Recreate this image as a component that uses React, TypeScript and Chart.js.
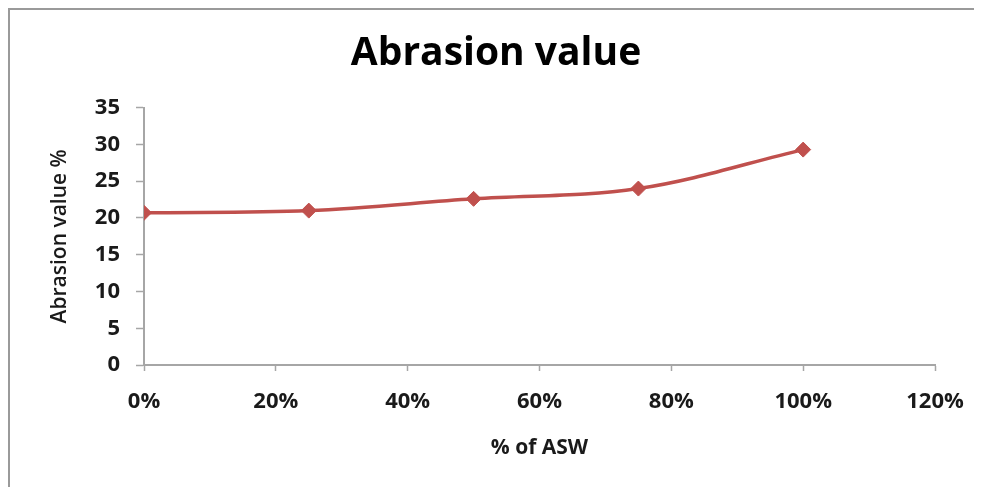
import React, { useEffect, useRef } from "react";
import { Chart, registerables } from "chart.js";

Chart.register(...registerables);

const xValues = [0, 0.25, 0.5, 0.75, 1.0];
const abrasionValues = [20.7, 21.0, 22.6, 24.0, 29.3];
const chartTitle = "Abrasion value";
const xAxisTitle = "% of ASW";
const yAxisTitle = "Abrasion value %";

const FONT = "'Open Sans', 'DejaVu Sans', sans-serif";

export default function App() {
  const ref = useRef<HTMLCanvasElement | null>(null);

  useEffect(() => {
    if (!ref.current) return;
    const chart = new Chart(ref.current, {
      type: "scatter",
      data: {
        datasets: [
          {
            label: "Abrasion value",
            data: xValues.map((x, i) => ({ x, y: abrasionValues[i] })),
            showLine: true,
            borderColor: "#C0504D",
            backgroundColor: "#C0504D",
            borderWidth: 3.5,
            tension: 0.35,
            pointStyle: "rectRot",
            pointRadius: 7.5,
            pointBorderWidth: 1,
            pointBackgroundColor: "#C0504D",
            pointBorderColor: "#C0504D",
            yAxisID: "y",
          },
        ],
      },
      options: {
        animation: false,
        responsive: false,
        maintainAspectRatio: false,
        layout: { padding: 0 },
        plugins: {
          legend: { display: false },
          tooltip: { enabled: false },
          title: {
            display: true,
            text: chartTitle,
            color: "#000",
            font: { family: FONT, size: 39, weight: "bold", lineHeight: 1.2 },
            padding: { top: 20.6, bottom: 30.3 },
          },
        },
        scales: {
          x: {
            type: "linear",
            min: 0,
            max: 1.2,
            afterFit: (s: any) => {
              s.height = 122;
            },
            ticks: {
              stepSize: 0.2,
              callback: (v: any) => Math.round(Number(v) * 100) + "%",
              color: "#1a1a1a",
              font: { family: FONT, size: 22, weight: "bold" },
              padding: 18,
              maxRotation: 0,
            },
            grid: {
              drawOnChartArea: false,
              drawTicks: true,
              tickLength: 6,
              tickColor: "#a6a6a6",
              tickWidth: 1.5,
            },
            border: { display: true, color: "#a6a6a6", width: 2 },
            title: {
              display: true,
              text: xAxisTitle,
              color: "#1a1a1a",
              font: { family: FONT, size: 21, weight: "bold", lineHeight: 1.2 },
              padding: { top: 0, bottom: 26.4 },
            },
          },
          y: {
            type: "linear",
            position: "left",
            min: 0,
            max: 35,
            afterFit: (s: any) => {
              s.width = 134;
            },
            ticks: {
              stepSize: 5,
              color: "#1a1a1a",
              font: { family: FONT, size: 22, weight: "bold" },
              padding: 16,
            },
            grid: {
              drawOnChartArea: false,
              drawTicks: true,
              tickLength: 8,
              tickColor: "#a6a6a6",
              tickWidth: 1.5,
            },
            border: { display: true, color: "#a6a6a6", width: 2 },
            title: {
              display: true,
              text: yAxisTitle,
              color: "#1a1a1a",
              font: { family: FONT, size: 21, weight: "600", lineHeight: 1.2 },
              padding: { top: 37.4, bottom: 0 },
            },
          },
          rightSpace: {
            type: "linear",
            position: "right",
            display: true,
            afterFit: (s: any) => {
              s.width = 47;
            },
            ticks: { display: false },
            grid: { display: false, drawTicks: false },
            border: { display: false },
            title: { display: false },
          },
        },
      },
    });
    return () => chart.destroy();
  }, []);

  return (
    <div
      style={{
        width: 974,
        height: 479,
        boxSizing: "border-box",
        borderLeft: "2px solid #9a9a9a",
        borderTop: "2px solid #9a9a9a",
        background: "#fff",
      }}
    >
      <canvas ref={ref} width={972} height={477} style={{ display: "block" }} />
    </div>
  );
}
